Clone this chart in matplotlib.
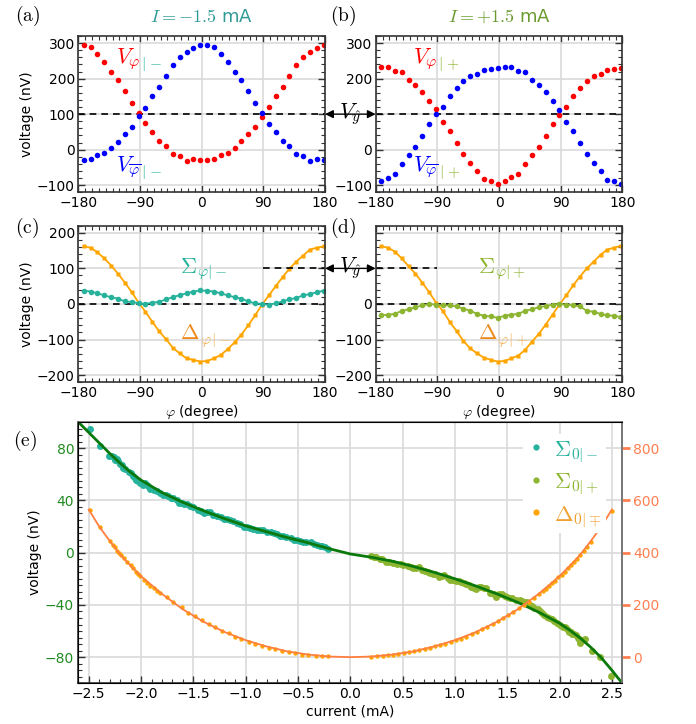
import matplotlib
matplotlib.use("Agg")
import matplotlib.pyplot as plt
from matplotlib.lines import Line2D
from matplotlib.patches import ConnectionPatch, Rectangle
from matplotlib.ticker import MultipleLocator

plt.rcParams['mathtext.fontset'] = 'cm'
plt.rcParams['font.family'] = ['DejaVu Sans']

# measurement angles (degree)
phi = [-172, -162, -152, -142, -132, -122, -112, -102, -92, -82, -72, -62,
       -52, -42, -32, -22, -12, -2, 8, 18, 28, 38, 48, 58,
       68, 78, 88, 98, 108, 118, 128, 138, 148, 158, 168, 178]

# (a) I = -1.5 mA
v_phi_m = [296, 288, 268, 247, 219, 195, 164, 132, 103, 75, 50, 24,
           11, -12, -19, -33, -27, -29, -29, -26, -16, -10, 4, 23,
           43, 65, 93, 120, 150, 176, 207, 237, 260, 275, 286, 296]
v_bar_m = [-29, -27, -15, -10, 4, 22, 43, 65, 95, 118, 150, 176,
           207, 237, 260, 276, 286, 296, 294, 288, 268, 247, 219, 195,
           164, 132, 103, 73, 50, 24, 11, -11, -19, -33, -27, -29]
# (b) I = +1.5 mA
v_phi_p = [234, 232, 222, 218, 195, 182, 163, 138, 114, 79, 53, 18,
           -12, -37, -59, -82, -87, -98, -87, -78, -69, -41, -16, 7,
           38, 72, 98, 121, 151, 174, 194, 207, 213, 223, 228, 231]
v_bar_p = [-87, -79, -69, -41, -16, 7, 38, 72, 101, 121, 151, 174,
           194, 207, 213, 223, 228, 231, 234, 232, 222, 218, 195, 182,
           163, 138, 112, 79, 53, 18, -12, -37, -59, -84, -87, -96]
# (c) sum and difference, I = -1.5 mA
sig_m = [37, 35, 30, 24, 19, 15, 7, 6, 2, 0, 4, 6,
         13, 19, 25, 30, 35, 38, 37, 35, 30, 24, 19, 15,
         7, 2, 0, -2, 2, 7, 13, 17, 24, 28, 33, 37]
dlt_m = [162, 158, 145, 128, 108, 85, 60, 33, 4, -22, -50, -77,
         -99, -123, -139, -153, -157, -162, -160, -153, -143, -127, -108, -86,
         -60, -32, -2, 24, 50, 75, 99, 119, 136, 153, 158, 162]
# (d) sum and difference, I = +1.5 mA
sig_p = [-32, -30, -28, -19, -15, -9, -4, 0, -2, -4, -4, -7,
         -13, -19, -28, -33, -35, -39, -33, -30, -28, -19, -15, -9,
         -6, -2, 0, -2, -4, -7, -19, -22, -28, -32, -33, -37]
dlt_p = [162, 158, 147, 128, 106, 85, 60, 33, 4, -20, -50, -76,
         -104, -125, -139, -151, -157, -162, -160, -153, -145, -129, -106, -84,
         -58, -30, -2, 24, 52, 77, 100, 119, 138, 153, 158, 164]

# (e) current sweep
cur_sig_m = [-2.49, -2.39, -2.31, -2.28, -2.26, -2.25, -2.23, -2.22, -2.20, -2.18,
             -2.17, -2.15, -2.12, -2.10, -2.08, -2.06, -2.05, -2.03, -2.01, -1.98,
             -1.96, -1.94, -1.92, -1.91, -1.88, -1.85, -1.82, -1.79, -1.76, -1.74,
             -1.71, -1.69, -1.66, -1.64, -1.61, -1.59, -1.56, -1.53, -1.50, -1.46,
             -1.43, -1.40, -1.37, -1.34, -1.31, -1.27, -1.24, -1.21, -1.18, -1.15,
             -1.12, -1.08, -1.05, -1.02, -0.99, -0.96, -0.93, -0.89, -0.86, -0.83,
             -0.80, -0.76, -0.73, -0.70, -0.67, -0.64, -0.61, -0.57, -0.54, -0.51,
             -0.48, -0.45, -0.42, -0.38, -0.35, -0.32, -0.29, -0.27, -0.24, -0.21]
sig0_m = [95, 82, 74, 74, 73, 71, 72, 70, 68, 67,
          65, 64, 62, 61, 59, 57, 56, 55, 53, 52,
          53, 52, 50, 49, 48, 47, 46, 44, 44, 43,
          42, 42, 40, 38, 38, 37, 37, 36, 35, 33,
          32, 30, 31, 31, 29, 28, 27, 26, 26, 25,
          24, 23, 22, 20, 20, 19, 18, 17, 17, 17,
          16, 16, 15, 14, 13, 13, 12, 11, 10, 10,
          9, 8, 8, 8, 7, 6, 5, 5, 4, 3]
cur_sig_p = [0.20, 0.23, 0.25, 0.28, 0.30, 0.34, 0.37, 0.41, 0.45, 0.48,
             0.50, 0.55, 0.58, 0.60, 0.63, 0.66, 0.69, 0.71, 0.74, 0.76,
             0.79, 0.81, 0.85, 0.88, 0.90, 0.93, 0.95, 0.98, 1.01, 1.04,
             1.06, 1.09, 1.11, 1.13, 1.15, 1.18, 1.20, 1.23, 1.25, 1.28,
             1.30, 1.34, 1.37, 1.39, 1.42, 1.45, 1.48, 1.50, 1.53, 1.55,
             1.58, 1.62, 1.64, 1.66, 1.69, 1.71, 1.74, 1.76, 1.79, 1.81,
             1.83, 1.85, 1.88, 1.90, 1.93, 1.95, 1.98, 2.00, 2.03, 2.05,
             2.06, 2.08, 2.09, 2.11, 2.12, 2.14, 2.16, 2.18, 2.19, 2.20,
             2.21, 2.22, 2.24, 2.31, 2.39, 2.49]
sig0_p = [-2.6, -3, -3.6, -4.5, -5.1, -6.9, -7, -8.2, -8.7, -9,
          -9.5, -10.2, -11, -12, -12, -11, -13, -13.8, -14.5, -15.3,
          -16, -16.3, -18.4, -17.5, -17, -19.5, -21, -21, -22, -22,
          -22.5, -23, -24, -25, -26, -27, -28, -26.5, -26, -27,
          -27, -31, -32, -34, -32, -32, -33, -34, -34.5, -35,
          -36, -36, -37, -37.5, -38, -39, -41, -42, -43, -45,
          -46, -48, -49, -50, -51, -52, -54, -55, -57, -57,
          -58, -59, -60.5, -61, -62, -62, -63, -65, -66, -69,
          -67, -67, -66, -75, -80, -94.5]
cur_dlt = [-2.49, -2.39, -2.30, -2.27, -2.25, -2.23, -2.21, -2.19, -2.16, -2.13,
           -2.10, -2.08, -2.05, -2.03, -2.01, -1.97, -1.94, -1.91, -1.88, -1.85,
           -1.82, -1.75, -1.69, -1.61, -1.55, -1.48, -1.42, -1.35, -1.29, -1.23,
           -1.16, -1.10, -1.04, -0.97, -0.91, -0.84, -0.78, -0.72, -0.65, -0.59,
           -0.53, -0.46, -0.40, -0.33, -0.27, -0.21,
           0.20, 0.26, 0.31, 0.36, 0.41, 0.46, 0.51, 0.56, 0.61, 0.66,
           0.71, 0.76, 0.81, 0.86, 0.91, 0.96, 1.01, 1.06, 1.11, 1.16,
           1.21, 1.26, 1.31, 1.36, 1.41, 1.46, 1.51, 1.56, 1.61, 1.66,
           1.71, 1.76, 1.80, 1.84, 1.87, 1.90, 1.93, 1.96, 1.99, 2.02,
           2.05, 2.08, 2.11, 2.14, 2.17, 2.20, 2.23, 2.26, 2.30, 2.39, 2.50]
dlt0 = [562, 500, 445, 430, 420, 408, 398, 390, 378, 365,
        353, 340, 327, 318, 311, 296, 285, 274, 263, 253,
        244, 231, 212, 191, 170, 157, 142, 127, 114, 101,
        91, 78, 68, 59, 50, 42, 36, 30, 25, 20,
        15, 10, 8, 5, 4, 3,
        2, 4, 6, 8, 10, 13, 16, 19, 23, 27,
        31, 36, 41, 46, 51, 57, 64, 71, 78, 88,
        97, 106, 116, 127, 138, 150, 162, 173, 187, 200,
        213, 228, 240, 252, 262, 272, 283, 293, 305, 316,
        327, 340, 352, 364, 377, 392, 405, 420, 442, 500, 561]
fit_cur_sig = [-2.6, -2.5, -2.4, -2.3, -2.2, -2.1, -2.0, -1.8, -1.6, -1.4, -1.2,
               -1.0, -0.8, -0.6, -0.4, -0.2, 0.0, 0.2, 0.4, 0.6, 0.8, 1.0,
               1.2, 1.4, 1.6, 1.8, 2.0, 2.1, 2.2, 2.3, 2.4, 2.5, 2.6]
fit_sig = [100, 92, 84, 76, 68.5, 61.5, 55.5, 46, 38.5, 32, 26,
           20.5, 16, 11.5, 7.5, 3, -1, -3.5, -6.5, -10.5, -15, -20,
           -25.5, -31.5, -38, -45.5, -54, -59.5, -65.5, -72.5, -80.5, -90, -100]
fit_cur_dlt = [-2.5, -2.4, -2.3, -2.2, -2.1, -2.0, -1.8, -1.6, -1.4, -1.2, -1.0,
               -0.8, -0.6, -0.4, -0.2, 0.0, 0.2, 0.4, 0.6, 0.8, 1.0,
               1.2, 1.4, 1.6, 1.8, 2.0, 2.1, 2.2, 2.3, 2.4, 2.5]
fit_dlt = [565, 500, 445, 393, 350, 310, 242, 183, 135, 96, 65,
           41, 22, 10, 2.5, 0, 2.5, 10, 22, 41, 65,
           96, 135, 183, 242, 310, 350, 393, 445, 500, 565]

TEAL = '#27b29c'
OLIVE = '#8db531'
ORANGE = '#ffa500'
DORANGE = '#ee8a1c'
LORANGE = '#f6b55c'
SPINE = '#333333'
GRID = '#dadada'

fig = plt.figure(figsize=(6.96, 7.24), dpi=100)
renderer = fig.canvas.get_renderer()
ax_a = fig.add_axes([0.1125, 0.7344, 0.3545, 0.2159])
ax_b = fig.add_axes([0.5398, 0.7344, 0.3545, 0.2159])
ax_c = fig.add_axes([0.1125, 0.4720, 0.3545, 0.2163])
ax_d = fig.add_axes([0.5398, 0.4720, 0.3545, 0.2163])
ax_e = fig.add_axes([0.1125, 0.0562, 0.7816, 0.3609])


def style_phi(ax, ylim, yticks):
    ax.set_xlim(-180, 180)
    ax.set_ylim(*ylim)
    ax.set_xticks([-180, -90, 0, 90, 180])
    ax.set_yticks(yticks)
    ax.xaxis.set_minor_locator(MultipleLocator(10))
    ax.yaxis.set_minor_locator(MultipleLocator(20))
    ax.tick_params(which='both', direction='in', top=True, right=True,
                   labelsize=10, color=SPINE, pad=2.5)
    ax.tick_params(which='major', length=5, width=1)
    ax.tick_params(which='minor', length=3, width=0.8)
    ax.grid(True, which='major', color=GRID, lw=1.2)
    ax.set_axisbelow(True)
    for s in ax.spines.values():
        s.set_color(SPINE)
        s.set_linewidth(1.2)


def two_tone(ax, x, y, head, tail, c_head, c_tail, size=16):
    # head in one colour, tail placed right after it in another colour
    t = ax.text(x, y, head, color=c_head, fontsize=size, ha='left', va='baseline')
    bb = t.get_window_extent(renderer)
    x0 = ax.transData.transform((x, y))[0]
    dx = (bb.x1 - x0) * 72 / fig.dpi
    ax.annotate(tail, xy=(x, y), xytext=(dx, 0), textcoords='offset points',
                color=c_tail, fontsize=size, ha='left', va='baseline')


# (a) and (b)
for ax, vp, vb, tag in [(ax_a, v_phi_m, v_bar_m, '-'), (ax_b, v_phi_p, v_bar_p, '+')]:
    style_phi(ax, (-120, 320), [-100, 0, 100, 200, 300])
    ax.axhline(100, color='k', ls='--', lw=1.2, dashes=(4, 3))
    ax.plot(phi, vp, 'o', color='red', ms=4, mec='none')
    ax.plot(phi, vb, 'o', color='blue', ms=4, mec='none')
    c = TEAL if tag == '-' else OLIVE
    two_tone(ax, -125, 242, r'$V_{\varphi}$', r'${}_{|%s}$' % tag, 'red', c)
    two_tone(ax, -125, -62, r'$V_{\overline{\varphi}}$', r'${}_{|%s}$' % tag, 'blue', c)
ax_a.set_ylabel('voltage (nV)', fontsize=10, labelpad=2)
# the V_y marker sits where (b) would print its 100 label
ax_b.set_yticklabels(['\u2212100', '0', '', '200', '300'])

# (c) and (d)
for ax, sg, dl, tag, col in [(ax_c, sig_m, dlt_m, '-', TEAL), (ax_d, sig_p, dlt_p, '+', OLIVE)]:
    style_phi(ax, (-220, 220), [-200, -100, 0, 100, 200])
    ax.axhline(0, color='k', ls='--', lw=1.2, dashes=(4, 3))
    ax.plot(phi, dl, '-s', color=ORANGE, ms=3.2, lw=1.3, mec='none')
    ax.plot(phi, sg, '-o', color=col, ms=4, lw=1.3, mec='none')
    ax.text(-31, 90, r'$\Sigma_{\varphi|%s}$' % tag, color=col, fontsize=16,
            ha='left', va='baseline')
    two_tone(ax, -31, -99, r'$\Delta$', r'${}_{\varphi|%s}$' % tag, DORANGE, LORANGE)
    ax.set_xlabel(r'$\varphi$ (degree)', fontsize=10, labelpad=2)
ax_c.plot([90, 180], [100, 100], color='k', ls='--', lw=1.2, dashes=(4, 3))
ax_d.plot([-180, -90], [100, 100], color='k', ls='--', lw=1.2, dashes=(4, 3))
ax_d.set_yticklabels(['\u2212200', '\u2212100', '0', '', ''])
ax_c.set_ylabel('voltage (nV)', fontsize=10, labelpad=2)

# V_y arrows between the panels
inv = fig.transFigure.inverted()
for left, right in [(ax_a, ax_b), (ax_c, ax_d)]:
    x0 = left.get_position().x1
    x1 = right.get_position().x0
    yf = inv.transform(left.transData.transform((0, 100)))[1]
    fig.add_artist(Rectangle((x0 + 0.002, yf - 0.017), x1 - x0 - 0.004, 0.034,
                             transform=fig.transFigure, facecolor='white',
                             edgecolor='none', zorder=1))
    fig.add_artist(ConnectionPatch((180, 100), (-180, 100), 'data', 'data',
                                   axesA=left, axesB=right, arrowstyle='<|-|>',
                                   mutation_scale=12, color='k', lw=1, zorder=2))
    fig.text((x0 + x1) / 2, yf, r'$V_{\hat{y}}$', fontsize=16, ha='center',
             va='center', zorder=3)

# (e)
ax_e.set_xlim(-2.6, 2.6)
ax_e.set_ylim(-100, 100)
ax_e.set_xticks([-2.5, -2.0, -1.5, -1.0, -0.5, 0.0, 0.5, 1.0, 1.5, 2.0, 2.5])
ax_e.set_yticks([-80, -40, 0, 40, 80])
ax_e.xaxis.set_minor_locator(MultipleLocator(0.1))
ax_e.yaxis.set_minor_locator(MultipleLocator(5))
ax_e.tick_params(which='both', direction='in', right=False, top=False,
                 labelsize=10, color=SPINE, pad=3)
ax_e.tick_params(which='major', length=5, width=1)
ax_e.tick_params(which='minor', length=3, width=0.8)
ax_e.tick_params(axis='y', labelcolor='#228b22')
ax_e.grid(True, which='major', color=GRID, lw=1.2)
ax_e.set_axisbelow(True)
for s in ax_e.spines.values():
    s.set_color(SPINE)
    s.set_linewidth(1.2)
ax_e.spines['top'].set_color('#777777')
ax_e.spines['right'].set_color('#777777')

ax_e.plot(cur_sig_m, sig0_m, 'o', color=TEAL, ms=5, mec='none')
ax_e.plot(cur_sig_p, sig0_p, 'o', color=OLIVE, ms=5, mec='none')
ax_e.plot(fit_cur_sig, fit_sig, color='#0a780a', lw=2)
ax_e.set_xlabel('current (mA)', fontsize=10, labelpad=2)
ax_e.set_ylabel('voltage (nV)', fontsize=10, labelpad=2)

ax2 = ax_e.twinx()
ax2.set_ylim(-100, 900)
ax2.set_yticks([0, 200, 400, 600, 800])
ax2.tick_params(direction='out', length=6, width=2, color='#ff7f50',
                labelcolor='#ff7f50', labelsize=10, pad=2)
ax2.spines['right'].set_color('#777777')
ax2.spines['right'].set_linewidth(1.2)
ax2.plot(cur_dlt, dlt0, 'o', color=ORANGE, ms=3.2, mec='none')
ax2.plot(fit_cur_dlt, fit_dlt, color='#ff7f3f', lw=1.3)
handles = [Line2D([], [], ls='none', marker='o', ms=4.5, mec='none', color=c)
           for c in (TEAL, OLIVE, ORANGE)]
ax2.legend(handles,
           [r'$\Sigma_{0|-}$', r'$\Sigma_{0|+}$', r'$\Delta_{0|\mp}$'],
           loc='upper right', bbox_to_anchor=(0.99, 0.995), fontsize=16,
           numpoints=1, handlelength=0.8, handletextpad=0.4,
           labelspacing=0.35, borderpad=0.2, frameon=True, framealpha=1,
           edgecolor='none', labelcolor=[TEAL, OLIVE, '#f0a030'])

# panel letters and titles
for x, y, s in [(15, 21, '(a)'), (330, 21, '(b)'), (15, 233, '(c)'),
                (330, 233, '(d)'), (13, 446, '(e)')]:
    fig.text(x / 696, 1 - y / 724, r'$\mathrm{%s}$' % s, fontsize=14, va='baseline')
fig.text(0.2898, 1 - 22 / 724, r'$I=-1.5$ mA', color='#2e9a96', fontsize=13,
         ha='center', va='baseline')
fig.text(0.7169, 1 - 22 / 724, r'$I=+1.5$ mA', color='#6a9a2e', fontsize=13,
         ha='center', va='baseline')

fig.savefig('out.png', dpi=100)
